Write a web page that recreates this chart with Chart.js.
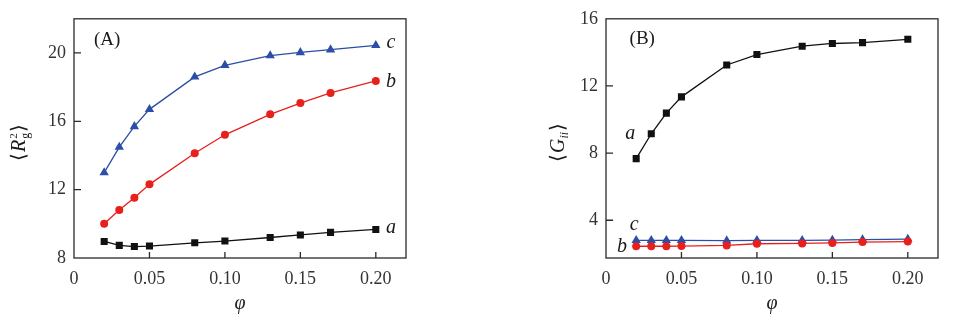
<!DOCTYPE html>
<html>
<head>
<meta charset="utf-8">
<script src="https://cdn.jsdelivr.net/npm/chart.js@4.4.1/dist/chart.umd.min.js"></script>
<style>
  html, body { margin: 0; padding: 0; background: #fff; }
  .panel { position: absolute; top: 0; height: 325px; }
  #panelA { left: 0; width: 480px; }
  #panelB { left: 480px; width: 477px; }
</style>
</head>
<body>
<div class="panel" id="panelA"><canvas id="chartA"></canvas></div>
<div class="panel" id="panelB"><canvas id="chartB"></canvas></div>
<script>
// volume fraction
const phi = [0.02, 0.03, 0.04, 0.05, 0.08, 0.10, 0.13, 0.15, 0.17, 0.20];

// (A) mean square radius of gyration
const rgA = [8.97, 8.74, 8.67, 8.70, 8.89, 8.99, 9.20, 9.35, 9.50, 9.67];
const rgB = [10.0, 10.81, 11.53, 12.31, 14.13, 15.21, 16.41, 17.07, 17.66, 18.36];
const rgC = [13.0, 14.49, 15.70, 16.70, 18.60, 19.28, 19.85, 20.03, 20.19, 20.45];

// (B) mean G_ii
const gA = [7.67, 9.15, 10.38, 11.35, 13.25, 13.87, 14.37, 14.53, 14.58, 14.78];
const gB = [2.45, 2.45, 2.45, 2.46, 2.50, 2.60, 2.62, 2.65, 2.70, 2.73];
const gC = [2.80, 2.80, 2.80, 2.80, 2.78, 2.80, 2.80, 2.82, 2.85, 2.88];

const xTicks = [0, 0.05, 0.10, 0.15, 0.20];
const xTickLabels = ['0', '0.05', '0.10', '0.15', '0.20'];
const yTicksA = [8, 12, 16, 20];
const yTicksB = [4, 8, 12, 16];

const BLACK = '#111111';
const RED = '#e8201c';
const BLUE = '#2b4ea6';
const AXIS = '#2a2a2a';
const SERIF = '"Liberation Serif", "Times New Roman", serif';

// text notes placed in data coordinates
const notesA = [
  { text: '(A)', x: 0.022, y: 20.76, italic: false, size: 19 },
  { text: 'c', x: 0.21, y: 20.6, italic: true, size: 20 },
  { text: 'b', x: 0.21, y: 18.3, italic: true, size: 20 },
  { text: 'a', x: 0.21, y: 9.77, italic: true, size: 20 }
];
const notesB = [
  { text: '(B)', x: 0.024, y: 14.8, italic: false, size: 19 },
  { text: 'a', x: 0.016, y: 9.17, italic: true, size: 20 },
  { text: 'c', x: 0.0186, y: 3.71, italic: true, size: 20 },
  { text: 'b', x: 0.0106, y: 2.43, italic: true, size: 20 }
];

function series(values, color, style, radius) {
  return {
    data: phi.map((p, i) => ({ x: p, y: values[i] })),
    borderColor: color,
    backgroundColor: color,
    borderWidth: 1.3,
    pointStyle: style,
    pointRadius: radius,
    pointBorderWidth: 0,
    tension: 0
  };
}

// frame, inward ticks, notes and the y axis title
const framePlugin = {
  id: 'frame',
  afterDraw(chart, args, opts) {
    const { ctx, chartArea: a, scales: { x, y } } = chart;
    ctx.save();
    ctx.strokeStyle = AXIS;
    ctx.lineWidth = 1.3;
    ctx.strokeRect(a.left, a.top, a.right - a.left, a.bottom - a.top);
    ctx.beginPath();
    x.ticks.forEach(t => {
      const px = x.getPixelForValue(t.value);
      if (px <= a.left + 1) return;
      ctx.moveTo(px, a.bottom);
      ctx.lineTo(px, a.bottom - 6);
    });
    y.ticks.forEach(t => {
      const py = y.getPixelForValue(t.value);
      if (py >= a.bottom - 1 || py <= a.top + 1) return;
      ctx.moveTo(a.left, py);
      ctx.lineTo(a.left + 7, py);
    });
    ctx.stroke();

    ctx.fillStyle = '#1a1a1a';
    ctx.textAlign = 'center';
    ctx.textBaseline = 'middle';
    opts.notes.forEach(n => {
      ctx.font = (n.italic ? 'italic ' : '') + n.size + 'px ' + SERIF;
      ctx.fillText(n.text, x.getPixelForValue(n.x), y.getPixelForValue(n.y));
    });

    // rotated title built from pieces
    const parts = opts.title;
    ctx.translate(opts.titleX, (a.top + a.bottom) / 2 + 4);
    ctx.rotate(-Math.PI / 2);
    ctx.textAlign = 'left';
    ctx.textBaseline = 'alphabetic';
    let total = 0;
    const widths = parts.map(p => {
      ctx.font = (p.italic ? 'italic ' : '') + p.size + 'px ' + SERIF;
      const w = p.stack ? 0 : ctx.measureText(p.text).width;
      total += w + (p.gap || 0);
      return w;
    });
    let cx = -total / 2;
    parts.forEach((p, i) => {
      ctx.font = (p.italic ? 'italic ' : '') + p.size + 'px ' + SERIF;
      ctx.fillText(p.text, cx + (p.dx || 0), 7 + (p.dy || 0));
      cx += widths[i] + (p.gap || 0);
    });
    ctx.restore();
  }
};

function scales(yMin, yMax, yTicks) {
  const tickFont = { family: SERIF, size: 18 };
  return {
    x: {
      type: 'linear',
      min: 0,
      max: 0.22,
      grid: { display: false, drawTicks: false },
      border: { display: false },
      afterBuildTicks: s => { s.ticks = xTicks.map(v => ({ value: v })); },
      afterFit: s => { s.height = 67; },
      ticks: {
        color: '#333',
        font: tickFont,
        padding: 10,
        maxRotation: 0,
        autoSkip: false,
        callback: v => xTickLabels[xTicks.indexOf(v)]
      },
      title: {
        display: true,
        text: 'φ',
        color: '#222',
        font: { family: SERIF, size: 20, style: 'italic' },
        padding: { top: 0, bottom: 9 }
      }
    },
    y: {
      type: 'linear',
      min: yMin,
      max: yMax,
      grid: { display: false, drawTicks: false },
      border: { display: false },
      afterBuildTicks: s => { s.ticks = yTicks.map(v => ({ value: v })); },
      afterFit: s => { s.width = 60; },
      ticks: {
        color: '#333',
        font: tickFont,
        padding: 8,
        autoSkip: false,
        callback: v => String(v)
      }
    }
  };
}

const common = {
  responsive: true,
  maintainAspectRatio: false,
  animation: false,
  events: [],
  plugins: { legend: { display: false }, tooltip: { enabled: false } }
};

new Chart(document.getElementById('chartA'), {
  type: 'line',
  data: {
    datasets: [
      series(rgA, BLACK, 'rect', 5),
      series(rgB, RED, 'circle', 4),
      series(rgC, BLUE, 'triangle', 5.4)
    ]
  },
  options: Object.assign({}, common, {
    layout: { padding: { left: 14, right: 74, top: 13, bottom: 0 } },
    scales: scales(8, 22, yTicksA),
    plugins: Object.assign({}, common.plugins, {
      frame: {
        notes: notesA,
        titleX: 18,
        title: [
          { text: '⟨', size: 20, gap: 1 },
          { text: 'R', size: 20, italic: true, gap: 1 },
          { text: '2', size: 11, stack: true, dy: -8 },
          { text: 'g', size: 12, dy: 4, gap: 1 },
          { text: '⟩', size: 20 }
        ]
      }
    })
  }),
  plugins: [framePlugin]
});

new Chart(document.getElementById('chartB'), {
  type: 'line',
  data: {
    datasets: [
      series(gA, BLACK, 'rect', 5),
      series(gB, RED, 'circle', 4),
      series(gC, BLUE, 'triangle', 5.4)
    ]
  },
  options: Object.assign({}, common, {
    layout: { padding: { left: 66, right: 19, top: 13, bottom: 0 } },
    scales: scales(1.75, 16, yTicksB),
    plugins: Object.assign({}, common.plugins, {
      frame: {
        notes: notesB,
        titleX: 77,
        title: [
          { text: '⟨', size: 20, gap: 1 },
          { text: 'G', size: 20, italic: true, gap: 0 },
          { text: 'ii', size: 12, italic: true, dy: 4, gap: 1 },
          { text: '⟩', size: 20 }
        ]
      }
    })
  }),
  plugins: [framePlugin]
});
</script>
</body>
</html>
